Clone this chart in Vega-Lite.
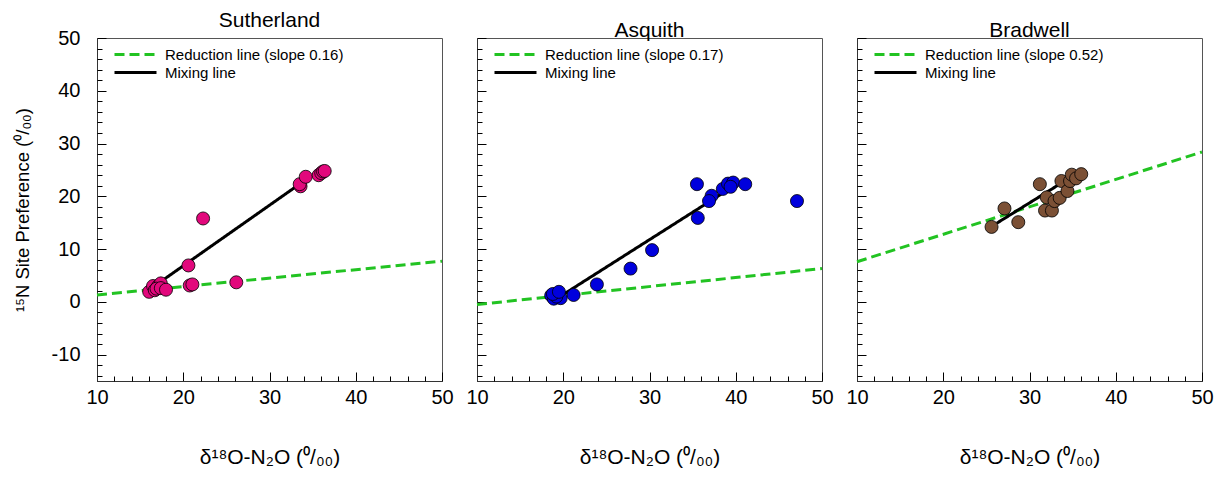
{
  "$schema": "https://vega.github.io/schema/vega-lite/v6.json",
  "background": "white",
  "padding": {"left": 12, "top": 9, "right": 5, "bottom": 5},
  "bounds": "flush",
  "spacing": 35,
  "datasets": {
    "points": [
      {"site": "Sutherland", "d18O": 16.05, "sp": 1.9},
      {"site": "Sutherland", "d18O": 16.5, "sp": 3.0},
      {"site": "Sutherland", "d18O": 16.7, "sp": 2.2},
      {"site": "Sutherland", "d18O": 17.1, "sp": 3.0},
      {"site": "Sutherland", "d18O": 17.4, "sp": 3.5},
      {"site": "Sutherland", "d18O": 16.9, "sp": 2.5},
      {"site": "Sutherland", "d18O": 17.4, "sp": 2.6},
      {"site": "Sutherland", "d18O": 18.0, "sp": 2.3},
      {"site": "Sutherland", "d18O": 20.6, "sp": 6.9},
      {"site": "Sutherland", "d18O": 20.75, "sp": 3.1},
      {"site": "Sutherland", "d18O": 21.06, "sp": 3.3},
      {"site": "Sutherland", "d18O": 22.3, "sp": 15.8},
      {"site": "Sutherland", "d18O": 26.15, "sp": 3.7},
      {"site": "Sutherland", "d18O": 33.6, "sp": 21.9},
      {"site": "Sutherland", "d18O": 33.5, "sp": 22.3},
      {"site": "Sutherland", "d18O": 34.2, "sp": 23.7},
      {"site": "Sutherland", "d18O": 35.7, "sp": 24.0},
      {"site": "Sutherland", "d18O": 36.0, "sp": 24.4},
      {"site": "Sutherland", "d18O": 36.2, "sp": 24.7},
      {"site": "Sutherland", "d18O": 36.4, "sp": 24.8},
      {"site": "Asquith", "d18O": 18.6, "sp": 1.2},
      {"site": "Asquith", "d18O": 18.9, "sp": 0.6},
      {"site": "Asquith", "d18O": 19.7, "sp": 0.7},
      {"site": "Asquith", "d18O": 19.2, "sp": 1.0},
      {"site": "Asquith", "d18O": 18.8, "sp": 1.5},
      {"site": "Asquith", "d18O": 19.5, "sp": 1.9},
      {"site": "Asquith", "d18O": 21.2, "sp": 1.3},
      {"site": "Asquith", "d18O": 23.9, "sp": 3.3},
      {"site": "Asquith", "d18O": 27.8, "sp": 6.3},
      {"site": "Asquith", "d18O": 30.3, "sp": 9.8},
      {"site": "Asquith", "d18O": 35.5, "sp": 22.3},
      {"site": "Asquith", "d18O": 35.6, "sp": 15.9},
      {"site": "Asquith", "d18O": 37.2, "sp": 20.1},
      {"site": "Asquith", "d18O": 36.9, "sp": 19.1},
      {"site": "Asquith", "d18O": 38.5, "sp": 21.4},
      {"site": "Asquith", "d18O": 39.1, "sp": 22.4},
      {"site": "Asquith", "d18O": 39.7, "sp": 22.6},
      {"site": "Asquith", "d18O": 39.4, "sp": 21.8},
      {"site": "Asquith", "d18O": 41.1, "sp": 22.3},
      {"site": "Asquith", "d18O": 47.1, "sp": 19.1},
      {"site": "Bradwell", "d18O": 25.6, "sp": 14.2},
      {"site": "Bradwell", "d18O": 27.1, "sp": 17.7},
      {"site": "Bradwell", "d18O": 28.7, "sp": 15.1},
      {"site": "Bradwell", "d18O": 31.2, "sp": 22.3},
      {"site": "Bradwell", "d18O": 31.8, "sp": 17.3},
      {"site": "Bradwell", "d18O": 32.6, "sp": 17.3},
      {"site": "Bradwell", "d18O": 32.0, "sp": 19.8},
      {"site": "Bradwell", "d18O": 32.9, "sp": 19.1},
      {"site": "Bradwell", "d18O": 33.5, "sp": 19.7},
      {"site": "Bradwell", "d18O": 33.7, "sp": 22.9},
      {"site": "Bradwell", "d18O": 34.4, "sp": 21.0},
      {"site": "Bradwell", "d18O": 34.7, "sp": 22.9},
      {"site": "Bradwell", "d18O": 34.9, "sp": 24.1},
      {"site": "Bradwell", "d18O": 35.4, "sp": 23.4},
      {"site": "Bradwell", "d18O": 36.0, "sp": 24.2}
    ],
    "lines": [
      {"site": "Sutherland", "line": "Reduction line (slope 0.16)", "d18O": 10, "sp": 1.3},
      {"site": "Sutherland", "line": "Reduction line (slope 0.16)", "d18O": 50, "sp": 7.7},
      {"site": "Sutherland", "line": "Mixing line", "d18O": 17.1, "sp": 3.5},
      {"site": "Sutherland", "line": "Mixing line", "d18O": 34.0, "sp": 22.9},
      {"site": "Asquith", "line": "Reduction line (slope 0.17)", "d18O": 10, "sp": -0.5},
      {"site": "Asquith", "line": "Reduction line (slope 0.17)", "d18O": 50, "sp": 6.3},
      {"site": "Asquith", "line": "Mixing line", "d18O": 20.2, "sp": 1.6},
      {"site": "Asquith", "line": "Mixing line", "d18O": 38.3, "sp": 20.4},
      {"site": "Bradwell", "line": "Reduction line (slope 0.52)", "d18O": 10, "sp": 7.6},
      {"site": "Bradwell", "line": "Reduction line (slope 0.52)", "d18O": 50, "sp": 28.4},
      {"site": "Bradwell", "line": "Mixing line", "d18O": 26.2, "sp": 14.9},
      {"site": "Bradwell", "line": "Mixing line", "d18O": 33.3, "sp": 22.1}
    ]
  },
  "hconcat": [
    {
      "title": "Sutherland",
      "width": 345,
      "height": 343,
      "layer": [
        {
          "data": {"name": "lines"},
          "transform": [{"filter": "datum.site === 'Sutherland'"}],
          "mark": {"type": "line", "strokeWidth": 3},
          "encoding": {
            "x": {"field": "d18O", "type": "quantitative", "scale": {"domain": [10, 50], "nice": false, "zero": false},
              "axis": {"orient": "bottom", "values": [10,20,30,40,50], "labelExpr": "'' + datum.value", "tickSize": -9, "labelPadding": 15, "title": "δ¹⁸O-N₂O (⁰/₀₀)"}},
            "y": {"field": "sp", "type": "quantitative", "scale": {"domain": [-15, 50], "nice": false, "zero": false},
              "axis": {"orient": "left", "values": [-10,0,10,20,30,40,50], "labelExpr": "'' + datum.value", "tickSize": -9, "labelPadding": 26, "title": "¹⁵N Site Preference (⁰/₀₀)"}},
            "color": {"field": "line", "type": "nominal", "scale": {"domain": ["Reduction line (slope 0.16)", "Mixing line"], "range": ["#22c322", "#000000"]}, "legend": {"title": null}},
            "strokeDash": {"field": "line", "type": "nominal", "scale": {"domain": ["Reduction line (slope 0.16)", "Mixing line"], "range": [[10, 5], [1, 0]]}, "legend": {"title": null}}
          }
        },
        {
          "data": {"name": "points"},
          "transform": [{"filter": "datum.site === 'Sutherland'"}],
          "mark": {"type": "point", "filled": true, "size": 170, "fill": "#e2087c", "stroke": "#000000", "strokeWidth": 0.8, "opacity": 1},
          "encoding": {
            "x": {"field": "d18O", "type": "quantitative", "scale": {"domain": [10, 50], "nice": false, "zero": false},
              "axis": {"orient": "bottom", "values": [12,14,16,18,22,24,26,28,32,34,36,38,42,44,46,48], "tickCount": 200, "tickSize": -5, "labels": false, "domain": false, "title": null}},
            "y": {"field": "sp", "type": "quantitative", "scale": {"domain": [-15, 50], "nice": false, "zero": false},
              "axis": {"orient": "left", "values": [-14,-12,-8,-6,-4,-2,2,4,6,8,12,14,16,18,22,24,26,28,32,34,36,38,42,44,46,48], "tickCount": 200, "tickSize": -5, "labels": false, "domain": false, "title": null}}
          }
        }
      ],
      "resolve": {"scale": {"x": "independent", "y": "independent"}}
    },
    {
      "title": "Asquith",
      "width": 345,
      "height": 343,
      "layer": [
        {
          "data": {"name": "lines"},
          "transform": [{"filter": "datum.site === 'Asquith'"}],
          "mark": {"type": "line", "strokeWidth": 3},
          "encoding": {
            "x": {"field": "d18O", "type": "quantitative", "scale": {"domain": [10, 50], "nice": false, "zero": false},
              "axis": {"orient": "bottom", "values": [10,20,30,40,50], "labelExpr": "'' + datum.value", "tickSize": -9, "labelPadding": 15, "title": "δ¹⁸O-N₂O (⁰/₀₀)"}},
            "y": {"field": "sp", "type": "quantitative", "scale": {"domain": [-15, 50], "nice": false, "zero": false},
              "axis": {"orient": "left", "values": [-10,0,10,20,30,40,50], "labels": false, "tickSize": -9, "title": null}},
            "color": {"field": "line", "type": "nominal", "scale": {"domain": ["Reduction line (slope 0.17)", "Mixing line"], "range": ["#22c322", "#000000"]}, "legend": {"title": null}},
            "strokeDash": {"field": "line", "type": "nominal", "scale": {"domain": ["Reduction line (slope 0.17)", "Mixing line"], "range": [[10, 5], [1, 0]]}, "legend": {"title": null}}
          }
        },
        {
          "data": {"name": "points"},
          "transform": [{"filter": "datum.site === 'Asquith'"}],
          "mark": {"type": "point", "filled": true, "size": 170, "fill": "#0000dd", "stroke": "#000000", "strokeWidth": 0.8, "opacity": 1},
          "encoding": {
            "x": {"field": "d18O", "type": "quantitative", "scale": {"domain": [10, 50], "nice": false, "zero": false},
              "axis": {"orient": "bottom", "values": [12,14,16,18,22,24,26,28,32,34,36,38,42,44,46,48], "tickCount": 200, "tickSize": -5, "labels": false, "domain": false, "title": null}},
            "y": {"field": "sp", "type": "quantitative", "scale": {"domain": [-15, 50], "nice": false, "zero": false},
              "axis": {"orient": "left", "values": [-14,-12,-8,-6,-4,-2,2,4,6,8,12,14,16,18,22,24,26,28,32,34,36,38,42,44,46,48], "tickCount": 200, "tickSize": -5, "labels": false, "domain": false, "title": null}}
          }
        }
      ],
      "resolve": {"scale": {"x": "independent", "y": "independent"}}
    },
    {
      "title": "Bradwell",
      "width": 345,
      "height": 343,
      "layer": [
        {
          "data": {"name": "lines"},
          "transform": [{"filter": "datum.site === 'Bradwell'"}],
          "mark": {"type": "line", "strokeWidth": 3},
          "encoding": {
            "x": {"field": "d18O", "type": "quantitative", "scale": {"domain": [10, 50], "nice": false, "zero": false},
              "axis": {"orient": "bottom", "values": [10,20,30,40,50], "labelExpr": "'' + datum.value", "tickSize": -9, "labelPadding": 15, "title": "δ¹⁸O-N₂O (⁰/₀₀)"}},
            "y": {"field": "sp", "type": "quantitative", "scale": {"domain": [-15, 50], "nice": false, "zero": false},
              "axis": {"orient": "left", "values": [-10,0,10,20,30,40,50], "labels": false, "tickSize": -9, "title": null}},
            "color": {"field": "line", "type": "nominal", "scale": {"domain": ["Reduction line (slope 0.52)", "Mixing line"], "range": ["#22c322", "#000000"]}, "legend": {"title": null}},
            "strokeDash": {"field": "line", "type": "nominal", "scale": {"domain": ["Reduction line (slope 0.52)", "Mixing line"], "range": [[10, 5], [1, 0]]}, "legend": {"title": null}}
          }
        },
        {
          "data": {"name": "points"},
          "transform": [{"filter": "datum.site === 'Bradwell'"}],
          "mark": {"type": "point", "filled": true, "size": 170, "fill": "#7b5035", "stroke": "#000000", "strokeWidth": 0.8, "opacity": 1},
          "encoding": {
            "x": {"field": "d18O", "type": "quantitative", "scale": {"domain": [10, 50], "nice": false, "zero": false},
              "axis": {"orient": "bottom", "values": [12,14,16,18,22,24,26,28,32,34,36,38,42,44,46,48], "tickCount": 200, "tickSize": -5, "labels": false, "domain": false, "title": null}},
            "y": {"field": "sp", "type": "quantitative", "scale": {"domain": [-15, 50], "nice": false, "zero": false},
              "axis": {"orient": "left", "values": [-14,-12,-8,-6,-4,-2,2,4,6,8,12,14,16,18,22,24,26,28,32,34,36,38,42,44,46,48], "tickCount": 200, "tickSize": -5, "labels": false, "domain": false, "title": null}}
          }
        }
      ],
      "resolve": {"scale": {"x": "independent", "y": "independent"}}
    }
  ],
  "resolve": {
    "scale": {"color": "independent", "strokeDash": "independent"},
    "legend": {"color": "independent", "strokeDash": "independent"}
  },
  "config": {
    "font": "Liberation Sans",
    "view": {"stroke": "#555555", "strokeWidth": 1},
    "title": {"fontSize": 21, "fontWeight": "normal", "font": "Liberation Sans", "color": "#000000", "offset": -3},
    "axis": {
      "grid": false,
      "labelFont": "Liberation Sans",
      "labelFontSize": 20,
      "labelColor": "#000000",
      "labelOverlap": false,
      "labelFlush": false,
      "tickColor": "#000000",
      "tickWidth": 1,
      "domainColor": "#333333",
      "titleFont": "Liberation Sans",
      "titleFontWeight": "normal",
      "titleColor": "#000000"
    },
    "axisX": {"titleFontSize": 21, "titlePadding": 39},
    "axisY": {"titleFontSize": 18.5, "titlePadding": 19},
    "legend": {
      "orient": "top-left",
      "offset": 8,
      "padding": 0,
      "symbolType": "M-3,0H3",
      "symbolSize": 196,
      "symbolStrokeWidth": 3,
      "symbolOffset": 22,
      "labelFont": "Liberation Sans",
      "labelFontSize": 15,
      "labelColor": "#000000",
      "labelOffset": 21,
      "labelLimit": 400,
      "rowPadding": 1
    }
  }
}
